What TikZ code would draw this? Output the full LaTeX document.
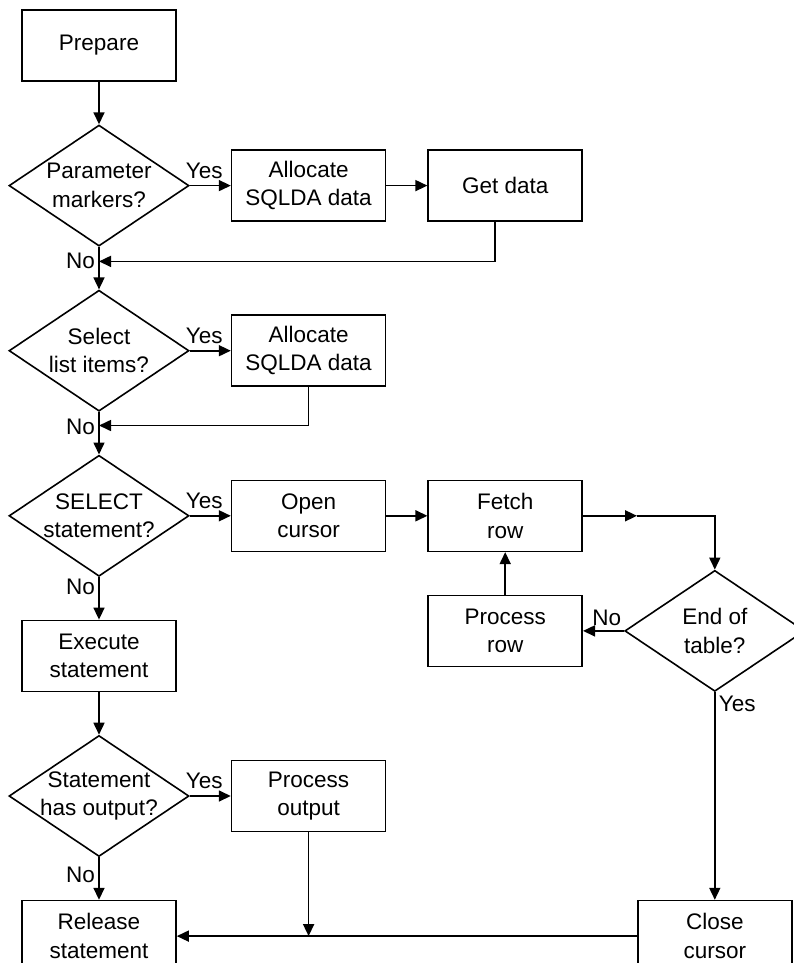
\documentclass[tikz,border=0pt]{standalone}
\usepackage{fontspec}
\setmainfont{Liberation Sans}
\usetikzlibrary{shapes.geometric, arrows.meta, positioning}

\begin{document}
\begin{tikzpicture}[
    node distance=42.5pt and 41pt,
    line width=1.6pt,
    every node/.style={font=\fontsize{22.5}{28.5}\selectfont},
    box/.style={draw, minimum width=154pt, minimum height=71pt, inner sep=2pt, align=center},
    decision/.style={draw, diamond, minimum width=180pt, minimum height=121pt, inner sep=-14pt, align=center},
    arrow/.style={-{Triangle[length=12pt, width=11pt]}}
]
    \useasboundingbox (0,0) rectangle (793pt,-963pt);

    % Left column
    \node[box] (prepare) at (99pt,-45.5pt) {Prepare};
    \node[decision, below=of prepare] (params) {Parameter\\markers?};
    \node[decision, below=of params] (selitems) {Select\\list items?};
    \node[decision, below=of selitems] (selstmt) {SELECT\\statement?};
    \node[box, below=of selstmt] (execute) {Execute\\statement};
    \node[decision, below=of execute] (hasout) {Statement\\has output?};
    \node[box, below=of hasout] (release) {Release\\statement};

    % Yes branches
    \node[box, right=of params] (alloca) {Allocate\\SQLDA data};
    \node[box, right=of alloca] (getdata) {Get data};
    \node[box, right=of selitems] (allocb) {Allocate\\SQLDA data};
    \node[box, right=of selstmt] (opencur) {Open\\cursor};
    \node[box, right=of opencur] (fetch) {Fetch\\row};
    \node[box, below=of fetch] (procrow) {Process\\row};
    \node[decision, right=of procrow] (endtab) {End of\\table?};
    \node[box, right=of hasout] (procout) {Process\\output};
    \node[box] (closecur) at (endtab |- release) {Close\\cursor};

    % Join points
    \coordinate[below=14.5pt of params.south] (joina);
    \coordinate[below=13.5pt of selitems.south] (joinb);
    \coordinate[right=54pt of fetch.east] (fetchmid);

    % Connections
    \draw[arrow] (prepare) -- (params);
    \draw[arrow] (params) -- node[left, pos=0.32] {No} (selitems);
    \draw[arrow] (params) -- node[above=3pt, pos=0.35] {Yes} (alloca);
    \draw[arrow] (alloca) -- (getdata);
    \draw[arrow] ([xshift=-10pt]getdata.south) |- (joina);

    \draw[arrow] (selitems) -- node[left, pos=0.35] {No} (selstmt);
    \draw[arrow] (selitems) -- node[above=3pt, pos=0.35] {Yes} (allocb);
    \draw[arrow] (allocb.south) |- (joinb);

    \draw[arrow] (selstmt) -- node[above=3pt, pos=0.35] {Yes} (opencur);
    \draw[arrow] (opencur) -- (fetch);
    \draw[arrow] (fetch.east) -- (fetchmid);
    \draw[arrow] (fetchmid) -| (endtab.north);
    \draw[arrow] (endtab) -- node[above=1pt, pos=0.42] {No} (procrow);
    \draw[arrow] (procrow) -- (fetch);
    \draw[arrow] (endtab) -- node[right, pos=0.055] {Yes} (closecur);

    \draw[arrow] (selstmt) -- node[left, pos=0.22] {No} (execute);
    \draw[arrow] (execute) -- (hasout);
    \draw[arrow] (hasout) -- node[above=3pt, pos=0.35] {Yes} (procout);
    \draw[arrow] (hasout) -- node[left, pos=0.42] {No} (release);
    \draw[arrow] (procout.south) -- (procout.south |- release);
    \draw[arrow] (closecur) -- (release);
\end{tikzpicture}
\end{document}
